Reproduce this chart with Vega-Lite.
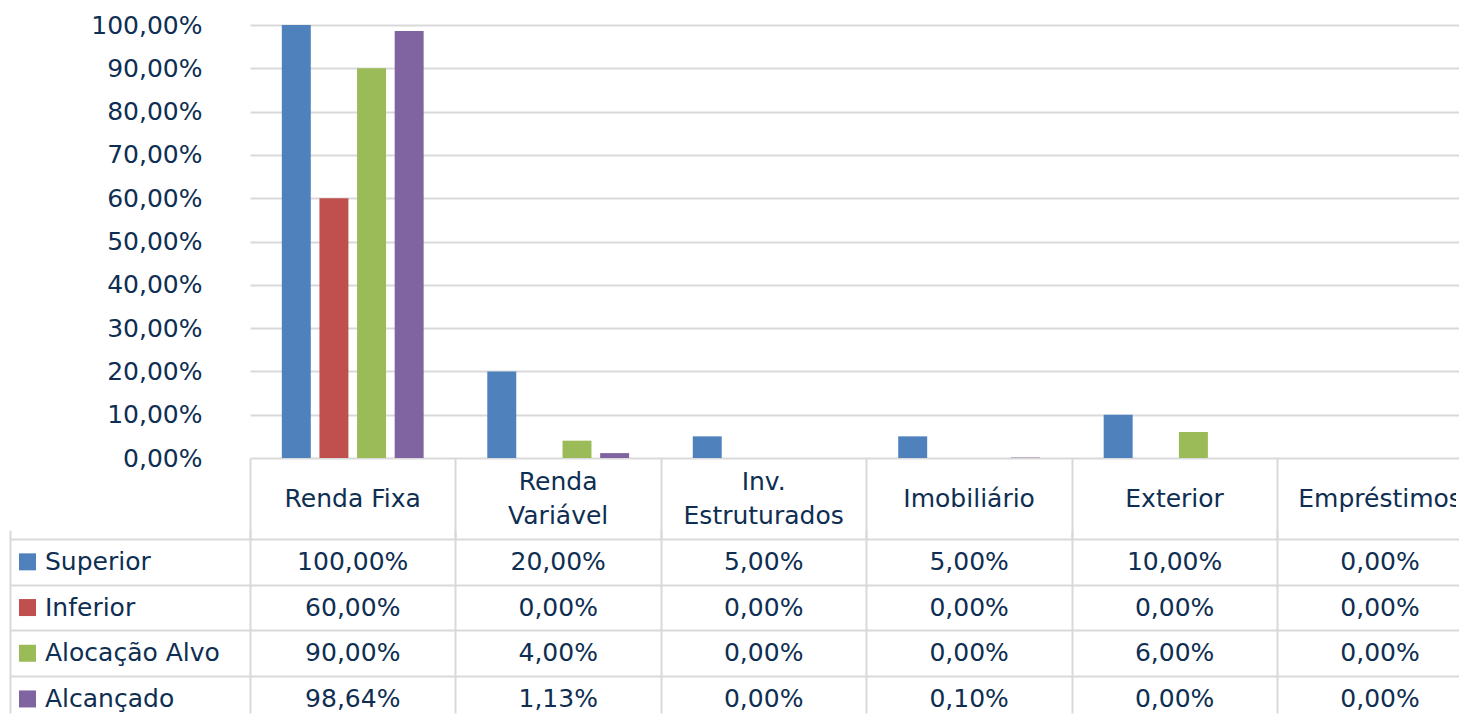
{
  "$schema": "https://vega.github.io/schema/vega-lite/v6.json",
  "padding": {"left": 10, "top": 13, "right": 0, "bottom": 0},
  "autosize": {"type": "pad"},
  "datasets": {
    "alloc": [
      {"category": "Renda Fixa", "series": "Superior", "value": 1.0},
      {"category": "Renda Fixa", "series": "Inferior", "value": 0.6},
      {"category": "Renda Fixa", "series": "Alocação Alvo", "value": 0.9},
      {"category": "Renda Fixa", "series": "Alcançado", "value": 0.9864},
      {"category": "Renda Variável", "series": "Superior", "value": 0.2},
      {"category": "Renda Variável", "series": "Inferior", "value": 0.0},
      {"category": "Renda Variável", "series": "Alocação Alvo", "value": 0.04},
      {"category": "Renda Variável", "series": "Alcançado", "value": 0.0113},
      {"category": "Inv. Estruturados", "series": "Superior", "value": 0.05},
      {"category": "Inv. Estruturados", "series": "Inferior", "value": 0.0},
      {"category": "Inv. Estruturados", "series": "Alocação Alvo", "value": 0.0},
      {"category": "Inv. Estruturados", "series": "Alcançado", "value": 0.0},
      {"category": "Imobiliário", "series": "Superior", "value": 0.05},
      {"category": "Imobiliário", "series": "Inferior", "value": 0.0},
      {"category": "Imobiliário", "series": "Alocação Alvo", "value": 0.0},
      {"category": "Imobiliário", "series": "Alcançado", "value": 0.001},
      {"category": "Exterior", "series": "Superior", "value": 0.1},
      {"category": "Exterior", "series": "Inferior", "value": 0.0},
      {"category": "Exterior", "series": "Alocação Alvo", "value": 0.06},
      {"category": "Exterior", "series": "Alcançado", "value": 0.0},
      {"category": "Empréstimos", "series": "Superior", "value": 0.0},
      {"category": "Empréstimos", "series": "Inferior", "value": 0.0},
      {"category": "Empréstimos", "series": "Alocação Alvo", "value": 0.0},
      {"category": "Empréstimos", "series": "Alcançado", "value": 0.0}
    ],
    "cats": [
      {"category": "Renda Fixa", "label": "Renda Fixa", "lines": 1},
      {"category": "Renda Variável", "label": "Renda\nVariável", "lines": 2},
      {"category": "Inv. Estruturados", "label": "Inv.\nEstruturados", "lines": 2},
      {"category": "Imobiliário", "label": "Imobiliário", "lines": 1},
      {"category": "Exterior", "label": "Exterior", "lines": 1},
      {"category": "Empréstimos", "label": "Empréstimos", "lines": 1}
    ]
  },
  "columns": 2,
  "align": "each",
  "bounds": "flush",
  "spacing": 0,
  "concat": [
    {
      "width": 240, "height": 433,
      "data": {"values": [{}]},
      "mark": {"type": "text"},
      "encoding": {"text": {"value": ""}}
    },
    {
      "width": 1206, "height": 433,
      "data": {"name": "alloc"},
      "mark": {"type": "bar"},
      "encoding": {
        "x": {"field": "category", "type": "nominal",
          "scale": {"domain": ["Renda Fixa", "Renda Variável", "Inv. Estruturados", "Imobiliário", "Exterior", "Empréstimos"], "range": [0, 1232.8], "paddingInner": 0, "paddingOuter": 0},
          "axis": null},
        "xOffset": {"field": "series", "type": "nominal",
          "scale": {"domain": ["Superior", "Inferior", "Alocação Alvo", "Alcançado"], "paddingInner": 0.23, "paddingOuter": 0.846}},
        "y": {"field": "value", "type": "quantitative",
          "scale": {"domain": [0, 1], "nice": false},
          "axis": {"values": [0, 0.1, 0.2, 0.3, 0.4, 0.5, 0.6, 0.7, 0.8, 0.9, 1], "format": ".2%", "grid": true, "domain": false, "ticks": false, "labelPadding": 48, "title": null}},
        "color": {"field": "series", "type": "nominal",
          "scale": {"domain": ["Superior", "Inferior", "Alocação Alvo", "Alcançado"], "range": ["#4F81BD", "#C0504D", "#9BBB59", "#8064A2"]},
          "legend": null}
      }
    },
    {
      "width": 240, "height": 81,
      "data": {"values": [{}]},
      "mark": {"type": "text"},
      "encoding": {"text": {"value": ""}}
    },
    {
      "width": 1206, "height": 81,
      "data": {"name": "cats"},
      "encoding": {
        "x": {"field": "category", "type": "nominal",
          "scale": {"domain": ["Renda Fixa", "Renda Variável", "Inv. Estruturados", "Imobiliário", "Exterior", "Empréstimos"], "range": [0, 1232.8], "paddingInner": 0, "paddingOuter": 0},
          "axis": {"grid": true, "tickOffset": -102.73, "labels": false, "ticks": false, "domain": false, "title": null}},
        "text": {"field": "label", "type": "nominal"}
      },
      "layer": [
        {
          "transform": [{"filter": "datum.lines == 1"}],
          "mark": {"type": "text", "clip": true, "baseline": "middle", "align": "center"}
        },
        {
          "transform": [{"filter": "datum.lines == 2"}],
          "mark": {"type": "text", "clip": true, "lineBreak": "\n", "lineHeight": 34, "baseline": "middle", "align": "center", "dy": -17}
        }
      ]
    },
    {
      "width": 240, "height": 174,
      "data": {"name": "alloc"},
      "transform": [{"filter": "datum.category === 'Renda Fixa'"}],
      "encoding": {
        "y": {"field": "series", "type": "nominal",
          "scale": {"domain": ["Superior", "Inferior", "Alocação Alvo", "Alcançado"], "range": [0, 182.8], "paddingInner": 0, "paddingOuter": 0},
          "axis": {"grid": true, "tickOffset": -22.85, "labels": false, "ticks": false, "domain": false, "title": null}},
        "x": {"datum": 0, "type": "quantitative",
          "scale": {"domain": [0, 1]},
          "axis": {"grid": true, "values": [0], "labels": false, "ticks": false, "domain": false, "title": null}}
      },
      "layer": [
        {
          "mark": {"type": "point", "shape": "square", "filled": true, "size": 289, "opacity": 1, "xOffset": 17.5},
          "encoding": {
            "color": {"field": "series", "type": "nominal",
              "scale": {"domain": ["Superior", "Inferior", "Alocação Alvo", "Alcançado"], "range": ["#4F81BD", "#C0504D", "#9BBB59", "#8064A2"]},
              "legend": null}
          }
        },
        {
          "mark": {"type": "text", "align": "left", "baseline": "middle", "dx": 35},
          "encoding": {"text": {"field": "series", "type": "nominal"}}
        }
      ]
    },
    {
      "width": 1206, "height": 174,
      "data": {"name": "alloc"},
      "mark": {"type": "text", "clip": true, "baseline": "middle", "align": "center"},
      "encoding": {
        "x": {"field": "category", "type": "nominal",
          "scale": {"domain": ["Renda Fixa", "Renda Variável", "Inv. Estruturados", "Imobiliário", "Exterior", "Empréstimos"], "range": [0, 1232.8], "paddingInner": 0, "paddingOuter": 0},
          "axis": {"grid": true, "tickOffset": -102.73, "labels": false, "ticks": false, "domain": false, "title": null}},
        "y": {"field": "series", "type": "nominal",
          "scale": {"domain": ["Superior", "Inferior", "Alocação Alvo", "Alcançado"], "range": [0, 182.8], "paddingInner": 0, "paddingOuter": 0},
          "axis": {"grid": true, "tickOffset": -22.85, "labels": false, "ticks": false, "domain": false, "title": null}},
        "text": {"field": "value", "type": "quantitative", "format": ".2%"}
      }
    }
  ],
  "config": {
    "view": {"stroke": null},
    "font": "DejaVu Sans",
    "locale": {"number": {"decimal": ",", "thousands": ".", "grouping": [3], "currency": ["R$", ""]}},
    "axis": {"gridColor": "#d9d9d9", "gridWidth": 2, "gridOpacity": 1, "labelFont": "DejaVu Sans", "labelFontSize": 25, "labelColor": "#0e2e52"},
    "text": {"font": "DejaVu Sans", "fontSize": 25, "color": "#0e2e52"}
  }
}
